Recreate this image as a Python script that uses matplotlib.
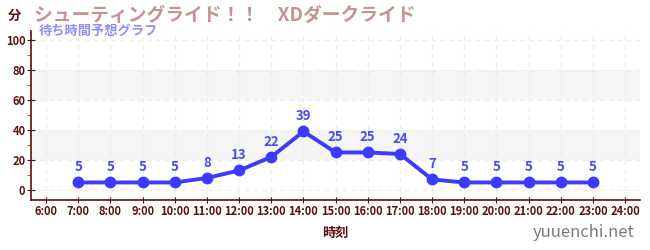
import matplotlib.pyplot as plt
from matplotlib.ticker import MultipleLocator

plt.rcParams['font.family'] = ['Noto Sans CJK JP', 'DejaVu Sans']

# データ
horas = [7, 8, 9, 10, 11, 12, 13, 14, 15, 16, 17, 18, 19, 20, 21, 22, 23]
espera = [5, 5, 5, 5, 8, 13, 22, 39, 25, 25, 24, 7, 5, 5, 5, 5, 5]
ticks_x = list(range(6, 25))
etiquetas_x = [f"{h}:00" for h in ticks_x]

TITULO = "シューティングライド！！　XDダークライド"
SUBTITULO = "待ち時間予想グラフ"

OSCURO = "#5a1010"
AZUL = "#3b3bff"

fig = plt.figure(figsize=(6.5, 2.5), dpi=100)
ax = fig.add_axes([0.0477, 0.2, 0.9373, 0.676])

# bandas grises
for y0, y1 in [(20, 40), (60, 80)]:
    ax.axhspan(y0, y1, color="#f5f5f5", zorder=0, lw=0)

ax.plot(horas, espera, color=AZUL, lw=2.8, marker="o", ms=7.5, zorder=3)
for h, v in zip(horas, espera):
    ax.annotate(str(v), (h, v), xytext=(0, 6), textcoords="offset points",
                ha="center", va="bottom", color="#4a4aee", fontsize=9.5,
                fontweight="bold")

ax.set_xlim(5.53, 24.47)
ax.set_ylim(-6.7, 106)
ax.set_xticks(ticks_x)
ax.set_xticklabels(etiquetas_x)
ax.set_yticks(range(0, 101, 20))
ax.yaxis.set_minor_locator(MultipleLocator(10))

ax.grid(True, which="major", color="#ececec", ls=(0, (4, 4)), lw=0.8, zorder=1)

for s in ["top", "right"]:
    ax.spines[s].set_visible(False)
for s in ["left", "bottom"]:
    ax.spines[s].set_color(OSCURO)
    ax.spines[s].set_linewidth(1.2)

ax.tick_params(axis="x", direction="inout", length=5, color=OSCURO,
               labelsize=8, labelcolor=OSCURO, pad=1)
ax.tick_params(axis="y", which="major", direction="inout", length=6,
               color="#222222", labelsize=8, labelcolor=OSCURO, pad=1)
ax.tick_params(axis="y", which="minor", direction="out", length=3,
               color="#dd2222")
for lab in ax.get_xticklabels() + ax.get_yticklabels():
    lab.set_fontweight("bold")

ax.set_xlabel("時刻", fontsize=9.5, fontweight="bold", color=OSCURO, labelpad=6)

fig.text(0.012, 0.935, "分", fontsize=9.5, fontweight="bold", color=OSCURO,
         va="center")
fig.text(0.052, 0.94, TITULO, fontsize=13.5, fontweight="bold",
         color="#c49494", va="center")
fig.text(0.06, 0.875, SUBTITULO, fontsize=9.5, fontweight="bold",
         color="#9090f4", va="center")
fig.text(0.977, 0.07, "yuuenchi.net", fontsize=12, color="#7a7a7a",
         ha="right", va="center")

fig.savefig("out.png", dpi=100)
